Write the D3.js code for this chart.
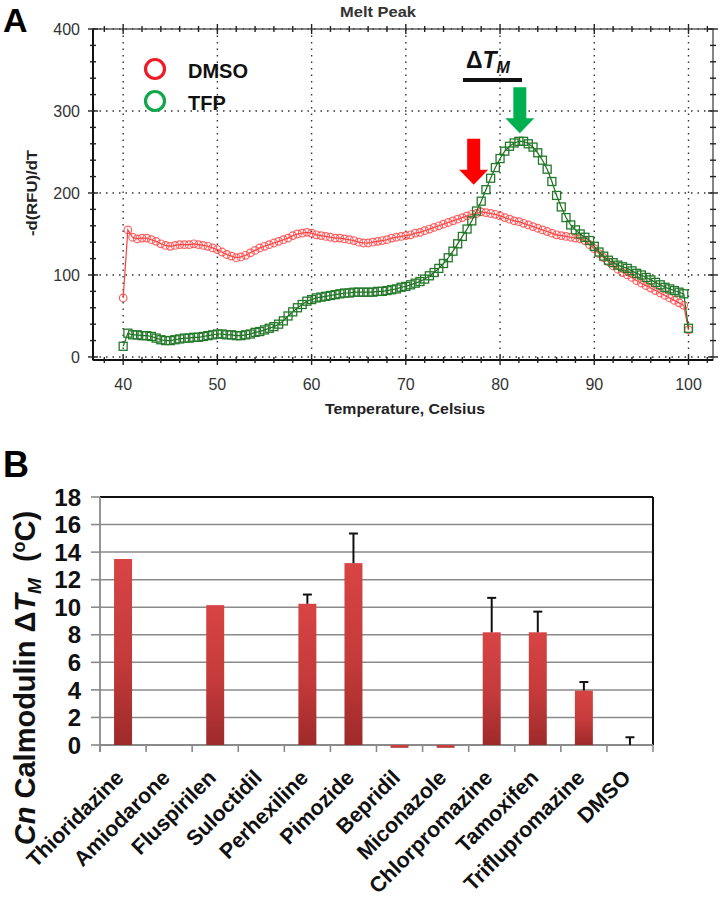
<!DOCTYPE html>
<html><head><meta charset="utf-8">
<script src="https://cdn.jsdelivr.net/npm/d3@7"></script>
<style>body{margin:0;background:#fff}text{font-family:"Liberation Sans",Arial,sans-serif}</style>
</head><body>
<svg id="c" width="720" height="900"></svg>
<script>
// ---------- Panel A data (melt peak, -d(RFU)/dT) ----------
const temperature = [40,40.5,41,41.5,42,42.5,43,43.5,44,44.5,45,45.5,46,46.5,47,47.5,48,48.5,49,49.5,
  50,50.5,51,51.5,52,52.5,53,53.5,54,54.5,55,55.5,56,56.5,57,57.5,58,58.5,59,59.5,
  60,60.5,61,61.5,62,62.5,63,63.5,64,64.5,65,65.5,66,66.5,67,67.5,68,68.5,69,69.5,
  70,70.5,71,71.5,72,72.5,73,73.5,74,74.5,75,75.5,76,76.5,77,77.5,78,78.5,79,79.5,
  80,80.5,81,81.5,82,82.5,83,83.5,84,84.5,85,85.5,86,86.5,87,87.5,88,88.5,89,89.5,
  90,90.5,91,91.5,92,92.5,93,93.5,94,94.5,95,95.5,96,96.5,97,97.5,98,98.5,99,99.5,100];
const dmso = [72,155,146,144,145,145,143,141,138,136,135,136,137,137,137,138,137,136,135,133,
  131,128,125,123,121,122,124,127,130,133,135,137,139,141,143,145,148,150,151,152,
  151,149,148,147,146,145,145,144,143,142,140,139,139,140,141,142,143,145,146,147,
  148,149,151,152,154,156,158,160,162,164,166,168,170,172,174,175,177,176,175,174,
  172,170,168,166,165,163,161,159,157,155,153,151,149,148,147,146,145,144,142,137,
  132,126,121,116,111,107,103,100,97,93,90,87,84,81,78,75,72,69,66,63,33];
const tfp = [13,29,27,27,26,26,25,23,21,20,20,21,22,23,23,24,24,25,26,27,
  28,28,27,27,26,26,27,28,30,31,33,35,37,40,44,50,55,60,64,68,
  70,72,73,74,75,76,77,78,78,79,79,79,79,79,80,80,81,82,83,85,
  86,88,90,92,95,99,103,108,114,121,129,138,147,156,166,178,190,204,218,231,
  242,251,257,261,263,263,260,256,249,240,229,214,197,183,170,161,155,150,146,142,
  135,128,123,118,115,112,110,108,105,102,100,97,94,91,88,85,83,81,79,77,35];
const seriesNames = ["DMSO", "TFP"];
const peakTemps = [77.2, 82.1];        // arrow annotations (DMSO, TFP)
const arrowTipValues = [210, 273];
const xTicksA = [40,50,60,70,80,90,100];
const yTicksA = [0,100,200,300,400];

// ---------- Panel B data ----------
const drugs = ["Thioridazine","Amiodarone","Fluspirilen","Suloctidil","Perhexiline","Pimozide",
  "Bepridil","Miconazole","Chlorpromazine","Tamoxifen","Triflupromazine","DMSO"];
const deltaTm = [13.5, 0, 10.15, 0, 10.25, 13.2, -0.2, -0.2, 8.18, 8.18, 3.95, 0];
const deltaTmErr = [0, 0, 0, 0, 0.67, 2.15, 0, 0, 2.5, 1.5, 0.62, 0.56];
const yTicksB = [0,2,4,6,8,10,12,14,16,18];

const svg = d3.select("#c");

// ================= Panel A =================
const xA = d3.scaleLinear().domain([36.8, 102.6]).range([93, 713]);
const yA = d3.scaleLinear().domain([-3.7, 400]).range([360, 29]);
const gA = svg.append("g");
const L = xA.range()[0], R = xA.range()[1], T = yA.range()[1], B = yA.range()[0];

// dotted grid
gA.selectAll(".gx").data(xTicksA).join("line")
  .attr("x1", d => xA(d)).attr("x2", d => xA(d)).attr("y1", T).attr("y2", B)
  .attr("stroke", "#333").attr("stroke-width", 1.4).attr("stroke-dasharray", "1.5,5");
gA.selectAll(".gy").data(yTicksA).join("line")
  .attr("y1", d => yA(d)).attr("y2", d => yA(d)).attr("x1", L).attr("x2", R)
  .attr("stroke", "#333").attr("stroke-width", 1.4).attr("stroke-dasharray", "1.5,5");

// frame
gA.append("rect").attr("x", L).attr("y", T).attr("width", R - L).attr("height", B - T)
  .attr("fill", "none").attr("stroke", "#444").attr("stroke-width", 1.3);
gA.append("line").attr("x1", L).attr("x2", L).attr("y1", T).attr("y2", B).attr("stroke", "#111").attr("stroke-width", 2);
gA.append("line").attr("x1", L).attr("x2", R).attr("y1", B).attr("y2", B).attr("stroke", "#111").attr("stroke-width", 2);

// ticks (major + minor) on all four sides
const xMinor = d3.range(38, 103, 2), yMinor = d3.range(0, 401, 20);
function xt(v){ return xTicksA.includes(v) ? 5 : 3; }
function yt(v){ return yTicksA.includes(v) ? 5 : 3; }
[B, T].forEach(yy => {
  gA.append("g").selectAll("line").data(xMinor).join("line")
    .attr("x1", d => xA(d)).attr("x2", d => xA(d))
    .attr("y1", d => yy - xt(d)).attr("y2", d => yy + xt(d))
    .attr("stroke", "#222").attr("stroke-width", 1.4);
});
[L, R].forEach(xx => {
  gA.append("g").selectAll("line").data(yMinor).join("line")
    .attr("y1", d => yA(d)).attr("y2", d => yA(d))
    .attr("x1", d => xx - yt(d)).attr("x2", d => xx + yt(d))
    .attr("stroke", "#222").attr("stroke-width", 1.4);
});

// tick labels
gA.selectAll(".xl").data(xTicksA).join("text")
  .attr("x", d => xA(d)).attr("y", 390).attr("text-anchor", "middle")
  .attr("font-size", 16).attr("fill", "#333").text(d => d);
gA.selectAll(".yl").data(yTicksA).join("text")
  .attr("x", 80).attr("y", d => yA(d)).attr("dy", "0.35em").attr("text-anchor", "end")
  .attr("font-size", 16).attr("fill", "#333").text(d => d);

// titles
gA.append("text").attr("x", 378).attr("y", 17).attr("text-anchor", "middle")
  .attr("font-size", 15).attr("font-weight", "bold").attr("fill", "#333")
  .attr("textLength", 76).attr("lengthAdjust", "spacingAndGlyphs").text("Melt Peak");
gA.append("text").attr("x", 405).attr("y", 414).attr("text-anchor", "middle")
  .attr("font-size", 15).attr("font-weight", "bold").attr("fill", "#222")
  .attr("textLength", 160).attr("lengthAdjust", "spacingAndGlyphs").text("Temperature, Celsius");
gA.append("text").attr("transform", "translate(37,193) rotate(-90)").attr("text-anchor", "middle")
  .attr("font-size", 14).attr("font-weight", "bold").attr("fill", "#222")
  .attr("textLength", 86).attr("lengthAdjust", "spacingAndGlyphs").text("-d(RFU)/dT");

// series
const lineA = d3.line().x((d, i) => xA(temperature[i])).y(d => yA(d));
gA.append("path").datum(dmso).attr("d", lineA).attr("fill", "none").attr("stroke", "#ff3b3b").attr("stroke-width", 1.2);
gA.append("g").selectAll("circle").data(dmso).join("circle")
  .attr("cx", (d, i) => xA(temperature[i])).attr("cy", d => yA(d)).attr("r", 3.8)
  .attr("fill", "none").attr("stroke", "#ff4848").attr("stroke-width", 1.2).attr("opacity", 0.85);
gA.append("path").datum(tfp).attr("d", lineA).attr("fill", "none").attr("stroke", "#1d6e1d").attr("stroke-width", 1.2);
gA.append("g").selectAll("rect").data(tfp).join("rect")
  .attr("x", (d, i) => xA(temperature[i]) - 4).attr("y", d => yA(d) - 4)
  .attr("width", 8).attr("height", 8)
  .attr("fill", "none").attr("stroke", "#23782a").attr("stroke-width", 1.3);

// legend
const legColors = ["#ee1c25", "#12a64a"];
seriesNames.forEach((n, i) => {
  gA.append("circle").attr("cx", 155).attr("cy", 69 + i * 32).attr("r", 9.5)
    .attr("fill", "none").attr("stroke", legColors[i]).attr("stroke-width", 3.2);
  gA.append("text").attr("x", 188).attr("y", 78 + i * 32).attr("font-size", 20)
    .attr("font-weight", "bold").attr("fill", "#111").text(n);
});

// arrows
const arrowColors = ["#ff0000", "#00b050"];
peakTemps.forEach((t, i) => {
  const cx = xA(t), ty = yA(arrowTipValues[i]);
  const p = [[cx - 6.5, ty - 46], [cx + 6.5, ty - 46], [cx + 6.5, ty - 15], [cx + 14.5, ty - 15],
             [cx, ty], [cx - 14.5, ty - 15], [cx - 6.5, ty - 15]];
  gA.append("path").attr("d", "M" + p.join("L") + "Z").attr("fill", arrowColors[i]);
});

// delta Tm label
const dt = gA.append("text").attr("x", 466).attr("y", 68).attr("font-size", 23).attr("font-weight", "bold").attr("fill", "#111");
dt.append("tspan").text("\u0394");
dt.append("tspan").attr("font-style", "italic").text("T");
dt.append("tspan").attr("font-style", "italic").attr("font-size", 16).attr("dy", 5).text("M");
gA.append("rect").attr("x", 463).attr("y", 78).attr("width", 59).attr("height", 4).attr("fill", "#111");

// panel letters
svg.append("text").attr("x", 3).attr("y", 32).attr("font-size", 34).attr("font-weight", "bold").text("A");
svg.append("text").attr("x", 3).attr("y", 477).attr("font-size", 36).attr("font-weight", "bold").text("B");

// ================= Panel B =================
const xB = d3.scaleBand().domain(drugs).range([100, 653]).paddingInner(0.61).paddingOuter(0.305);
const yB = d3.scaleLinear().domain([0, 18]).range([745, 497]);
const gB = svg.append("g");
const defs = svg.append("defs");
const grad = defs.append("linearGradient").attr("id", "barGrad").attr("x1", 0).attr("x2", 0).attr("y1", 0).attr("y2", 1);
grad.append("stop").attr("offset", "0%").attr("stop-color", "#d84444");
grad.append("stop").attr("offset", "55%").attr("stop-color", "#c43a3a");
grad.append("stop").attr("offset", "100%").attr("stop-color", "#9e2a2a");

// gridlines
gB.selectAll(".gl").data(yTicksB.filter(d => d > 0 && d < 18)).join("line")
  .attr("x1", 100).attr("x2", 653).attr("y1", d => yB(d)).attr("y2", d => yB(d))
  .attr("stroke", "#8a8a8a").attr("stroke-width", 1.5);
// axes/frame
gB.append("line").attr("x1", 100).attr("x2", 653).attr("y1", yB(18)).attr("y2", yB(18)).attr("stroke", "#111").attr("stroke-width", 2);
gB.append("line").attr("x1", 653).attr("x2", 653).attr("y1", yB(18)).attr("y2", yB(0)).attr("stroke", "#111").attr("stroke-width", 2);
gB.append("line").attr("x1", 100).attr("x2", 100).attr("y1", yB(18)).attr("y2", yB(0) + 7).attr("stroke", "#8a8a8a").attr("stroke-width", 1.8);
gB.append("line").attr("x1", 100).attr("x2", 653).attr("y1", yB(0)).attr("y2", yB(0)).attr("stroke", "#8a8a8a").attr("stroke-width", 1.8);
gB.selectAll(".yt").data(yTicksB).join("line")
  .attr("x1", 91).attr("x2", 100).attr("y1", d => yB(d)).attr("y2", d => yB(d))
  .attr("stroke", "#8a8a8a").attr("stroke-width", 1.6);
const bounds = drugs.map(d => xB(d) - xB.step() * xB.paddingInner() / 2).concat([653]);
gB.selectAll(".xt").data(bounds).join("line")
  .attr("x1", d => d).attr("x2", d => d).attr("y1", yB(0)).attr("y2", yB(0) + 7)
  .attr("stroke", "#8a8a8a").attr("stroke-width", 1.6);

// bars
gB.selectAll(".bar").data(drugs).join("rect")
  .attr("x", d => xB(d)).attr("width", xB.bandwidth())
  .attr("y", (d, i) => yB(Math.max(0, deltaTm[i])))
  .attr("height", (d, i) => Math.abs(yB(deltaTm[i]) - yB(0)))
  .attr("fill", "url(#barGrad)");

// error bars
const withErr = drugs.map((d, i) => ({d, v: Math.max(0, deltaTm[i]), e: deltaTmErr[i]})).filter(o => o.e > 0);
gB.selectAll(".ev").data(withErr).join("line")
  .attr("x1", o => xB(o.d) + xB.bandwidth() / 2).attr("x2", o => xB(o.d) + xB.bandwidth() / 2)
  .attr("y1", o => yB(o.v)).attr("y2", o => yB(o.v + o.e))
  .attr("stroke", "#111").attr("stroke-width", 2);
gB.selectAll(".ec").data(withErr).join("line")
  .attr("x1", o => xB(o.d) + xB.bandwidth() / 2 - 4.5).attr("x2", o => xB(o.d) + xB.bandwidth() / 2 + 4.5)
  .attr("y1", o => yB(o.v + o.e)).attr("y2", o => yB(o.v + o.e))
  .attr("stroke", "#111").attr("stroke-width", 2);

// tick labels
gB.selectAll(".yl").data(yTicksB).join("text")
  .attr("x", 81).attr("y", d => yB(d)).attr("dy", "0.36em").attr("text-anchor", "end")
  .attr("font-size", 24).attr("font-weight", "bold").attr("fill", "#111").text(d => d);
gB.selectAll(".xl").data(drugs).join("text")
  .attr("transform", d => `translate(${xB(d) + xB.bandwidth() / 2 + 2},779) rotate(-45)`)
  .attr("text-anchor", "end").attr("font-size", 21.5).attr("font-weight", "bold").attr("fill", "#111")
  .text(d => d);

// y title
const yt2 = gB.append("text").attr("transform", "translate(35,678) rotate(-90)")
  .attr("text-anchor", "middle").attr("font-size", 29).attr("font-weight", "bold").attr("fill", "#111");
yt2.append("tspan").attr("font-style", "italic").text("Cn");
yt2.append("tspan").text(" Calmodulin \u0394");
yt2.append("tspan").attr("font-style", "italic").text("T");
yt2.append("tspan").attr("font-style", "italic").attr("font-size", 19).attr("dy", 6).text("M");
yt2.append("tspan").attr("dy", -6).text("\u00a0 (");
yt2.append("tspan").attr("font-size", 18).attr("dy", -10).text("o");
yt2.append("tspan").attr("dy", 10).text("C)");
</script>
</body></html>
